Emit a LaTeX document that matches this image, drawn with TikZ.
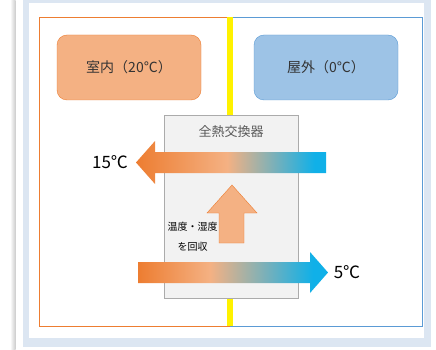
\documentclass[tikz,border=0pt]{standalone}
\usepackage{fontspec}
\setmainfont{Noto Sans CJK JP}
\usetikzlibrary{positioning}

\definecolor{warmorange}{HTML}{ED7D31}
\definecolor{paleorange}{HTML}{F4B183}
\definecolor{coolblue}{HTML}{5B9BD5}
\definecolor{paleblue}{HTML}{9DC3E6}
\definecolor{skycyan}{HTML}{10B0E8}
\definecolor{panelblue}{HTML}{DCE6F2}
\definecolor{boxgray}{HTML}{F2F2F2}
\definecolor{edgegray}{HTML}{ABABAB}

\pgfdeclarehorizontalshading{flowback}{100bp}{color(0bp)=(warmorange); color(25bp)=(warmorange);
  color(49bp)=(paleorange); color(72bp)=(skycyan); color(100bp)=(skycyan)}
\pgfdeclarehorizontalshading{flowout}{100bp}{color(0bp)=(warmorange); color(25bp)=(warmorange);
  color(44bp)=(paleorange); color(71bp)=(skycyan); color(100bp)=(skycyan)}

\tikzset{
  roombox/.style={rounded corners=10pt, minimum width=144pt, minimum height=65pt,
    font=\fontsize{14}{16}\selectfont, text=black!80},
  templabel/.style={font=\fontsize{17}{20}\selectfont, text=black, inner sep=0pt},
  smalllabel/.style={font=\fontsize{10}{12}\selectfont, text=black, inner sep=0pt},
}

\begin{document}
\begin{tikzpicture}[x=1pt,y=-1pt]
  \useasboundingbox (0,0) rectangle (436,350);
  % page and frame
  \fill[white] (0,0) rectangle (436,350);
  \shade[left color=white, right color=black!20] (10,0) rectangle (15.5,350);
  \fill[panelblue] (23,0) rectangle (431,347);
  \fill[white] (29,3) rectangle (424,338);
  \draw[warmorange] (230,17) -- (39,17) -- (39,326) -- (230,326);
  \draw[coolblue] (230,17) -- (422,17) -- (422,326) -- (230,326);
  \draw[yellow, line width=6pt] (230,17) -- (230,326);

  % Place nodes
  \node[roombox, fill=paleorange, draw=warmorange] (indoor) at (129,67.5) {室内（20℃）};
  \node[roombox, fill=paleblue, draw=coolblue] (outdoor) at (326,67.5) {屋外（0℃）};
  \node[draw=edgegray, fill=boxgray, minimum width=134pt, minimum height=183pt, inner sep=0pt]
    (exchanger) at (231,206.5) {};
  \node[font=\fontsize{13}{15}\selectfont, text=black!65] (title) at (231,132) {全熱交換器};

  % air streams
  \shade[shading=flowback] (326,152) -- (155,152) -- (155,141) -- (136,162.5)
    -- (155,184) -- (155,173) -- (326,173) -- cycle;
  \shade[shading=flowout] (138,262) -- (310,262) -- (310,252) -- (328,272.5)
    -- (310,293) -- (310,283) -- (138,283) -- cycle;
  \draw[warmorange, fill=paleorange] (219,243) -- (219,213) -- (207,213) -- (232,185)
    -- (257,213) -- (244,213) -- (244,243) -- cycle;

  \node[templabel] (backtemp) at (110,162) {15℃};
  \node[templabel] (outtemp) at (347,272) {5℃};
  \node[smalllabel] (recover1) at (192.5,227) {温度・湿度};
  \node[smalllabel, below=20pt of recover1.center, anchor=center] (recover2) {を回収};
\end{tikzpicture}
\end{document}
